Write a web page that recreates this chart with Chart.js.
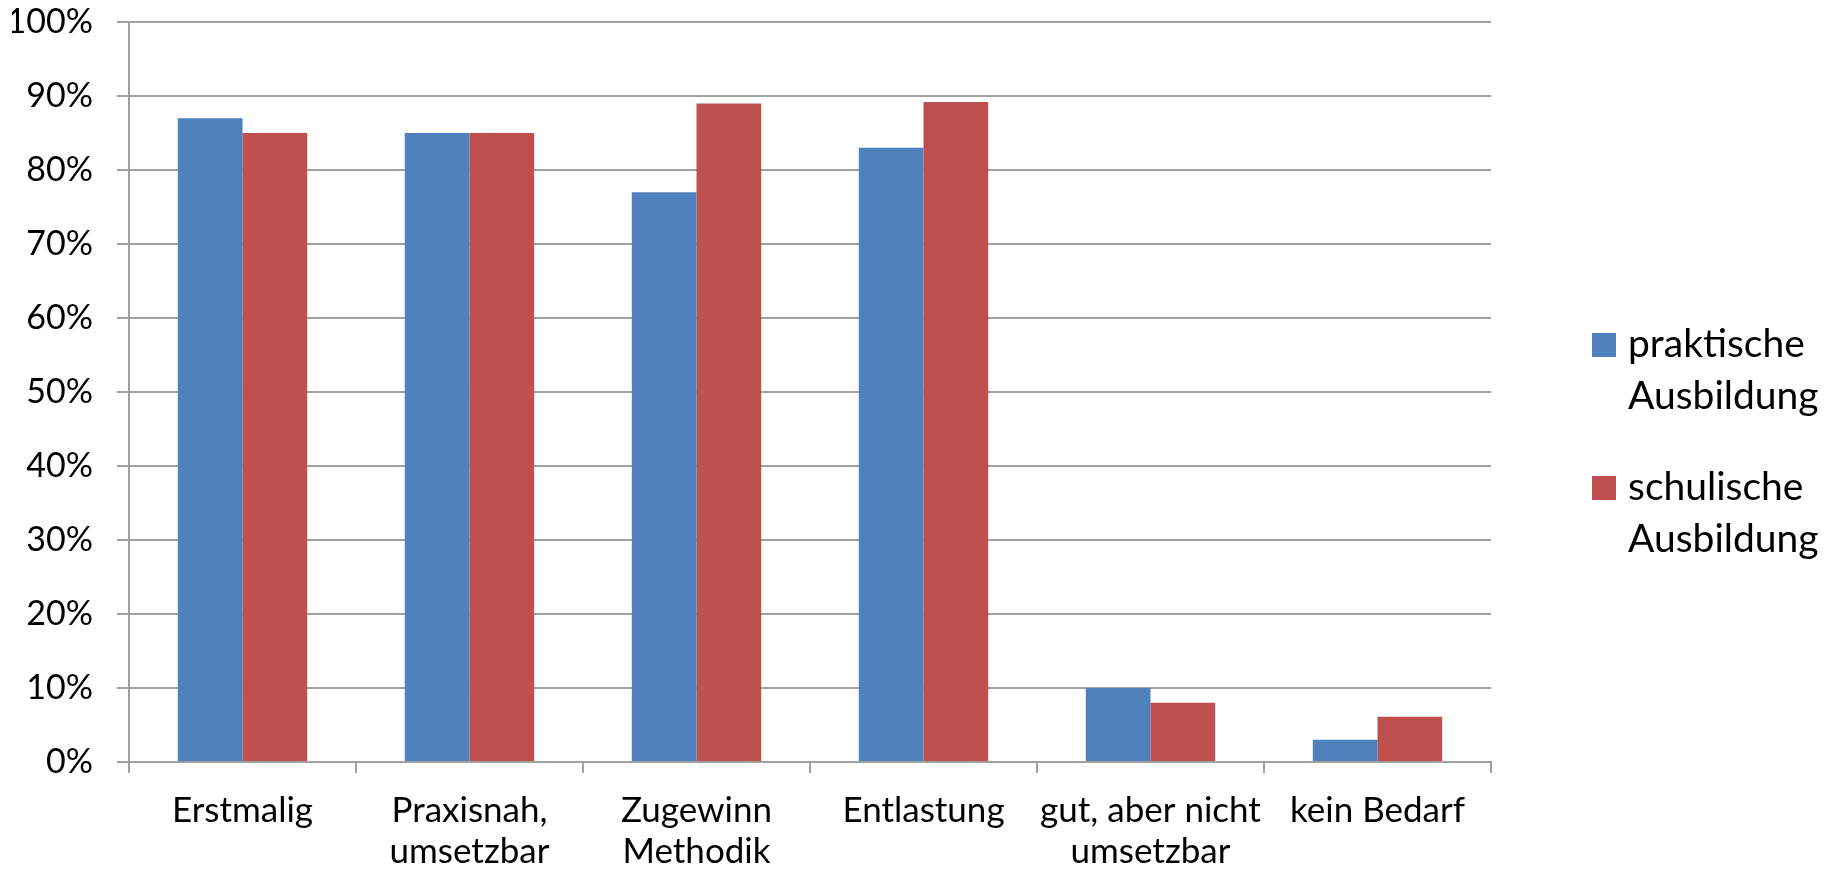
<!DOCTYPE html>
<html>
<head>
<meta charset="utf-8">
<script src="https://cdn.jsdelivr.net/npm/chart.js@4/dist/chart.umd.min.js"></script>
<style>
  html, body { margin: 0; padding: 0; background: #fff; }
  #wrap { width: 1836px; height: 872px; }
</style>
</head>
<body>
<div id="wrap"><canvas id="chart"></canvas></div>
<script>
const categories = [
    'Erstmalig',
    ['Praxisnah,', 'umsetzbar'],
    ['Zugewinn', 'Methodik'],
    'Entlastung',
    ['gut, aber nicht', 'umsetzbar'],
    'kein Bedarf'
];
const praktische = [87, 85, 77, 83, 10, 3];
const schulische = [85, 85, 89, 89.2, 8, 6.1];
const seriesNames = [['praktische', 'Ausbildung'], ['schulische', 'Ausbildung']];
const seriesColors = ['#4F81BD', '#C0504D'];

const gridColor = '#a0a0a0';

// Two-line legend on the right, drawn by hand
const sideLegend = {
    id: 'sideLegend',
    afterDraw(chart) {
        const ctx = chart.ctx;
        const x0 = chart.chartArea.right + 101;
        const baselines = [357, 500];
        ctx.save();
        ctx.font = '39px Lato';
        ctx.textBaseline = 'alphabetic';
        chart.data.datasets.forEach((ds, i) => {
            const b = baselines[i];
            ctx.fillStyle = ds.backgroundColor;
            ctx.fillRect(x0, b - 24, 24, 24);
            ctx.fillStyle = '#000';
            seriesNames[i].forEach((line, j) => {
                ctx.fillText(line, x0 + 36, b + j * 52);
            });
        });
        ctx.restore();
    }
};

new Chart(document.getElementById('chart'), {
    type: 'bar',
    data: {
        labels: categories,
        datasets: [
            { label: 'praktische Ausbildung', data: praktische, backgroundColor: seriesColors[0] },
            { label: 'schulische Ausbildung', data: schulische, backgroundColor: seriesColors[1] }
        ]
    },
    options: {
        responsive: true,
        maintainAspectRatio: false,
        animation: false,
        categoryPercentage: 0.57,
        barPercentage: 1,
        layout: { padding: { left: 12, right: 345, top: 22, bottom: 0 } },
        plugins: {
            legend: { display: false },
            tooltip: { enabled: false }
        },
        scales: {
            x: {
                afterFit(scale) { scale.height = 110; },
                grid: {
                    offset: true,
                    drawOnChartArea: false,
                    drawTicks: true,
                    tickLength: 11,
                    color: gridColor,
                    lineWidth: 2
                },
                border: { color: gridColor, width: 2 },
                ticks: {
                    color: '#000',
                    padding: 17,
                    maxRotation: 0,
                    autoSkip: false,
                    font: { family: 'Lato', size: 35, lineHeight: 1.17 }
                }
            },
            y: {
                min: 0,
                max: 100,
                afterFit(scale) {
                    scale.width = 117;
                    scale.paddingTop = 0;
                },
                grid: {
                    color: gridColor,
                    lineWidth: 2,
                    tickLength: 12
                },
                border: { color: gridColor, width: 2 },
                ticks: {
                    stepSize: 10,
                    color: '#000',
                    padding: 24,
                    font: { family: 'Lato', size: 34, lineHeight: 1 },
                    callback: v => v + '%'
                }
            }
        }
    },
    plugins: [sideLegend]
});
</script>
</body>
</html>
